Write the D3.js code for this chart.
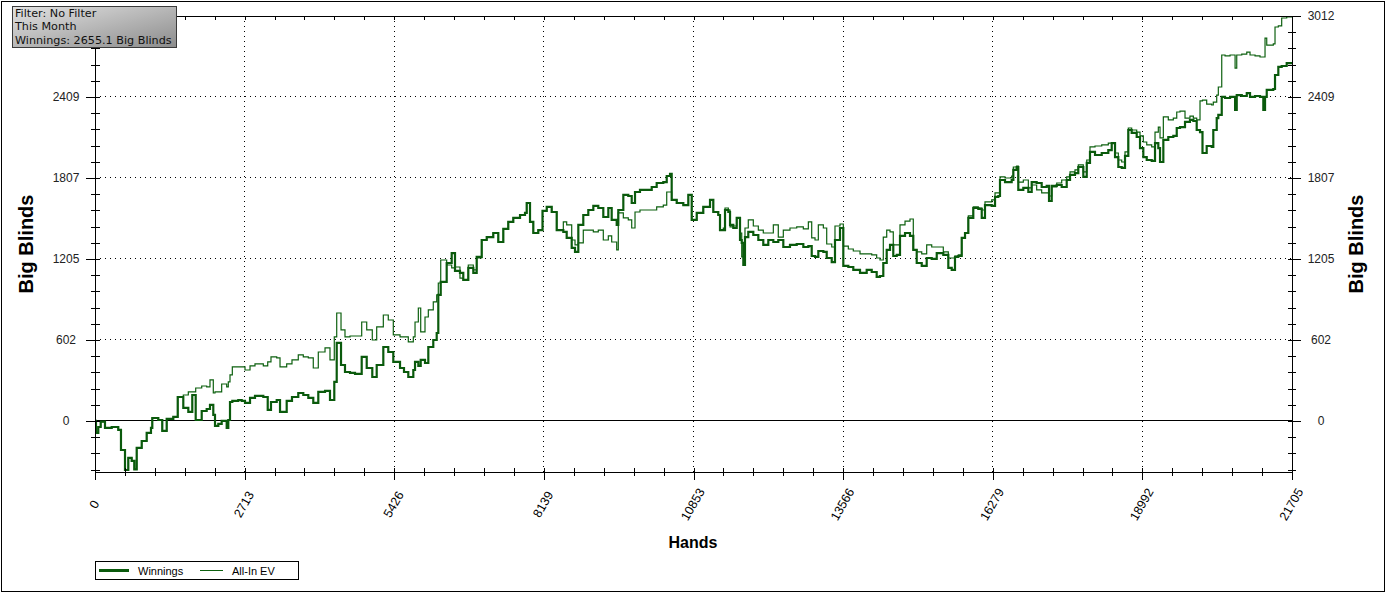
<!DOCTYPE html>
<html><head><meta charset="utf-8">
<script src="https://cdn.jsdelivr.net/npm/d3@7"></script>
<style>body{margin:0;background:#fff}svg{display:block}</style>
</head><body><svg id="c" width="1387" height="595"></svg>
<script>
const hands=[0,18,60,103,181,303,422,471,544,604,665,713,756,847,937,1015,1039,1148,1220,1300,1420,1500,1601,1692,1764,1826,1935,2025,2085,2145,2176,2236,2297,2388,2417,2448,2490,2598,2660,2720,2811,2901,3052,3132,3191,3295,3355,3476,3572,3686,3777,3868,3958,4049,4171,4261,4339,4383,4461,4533,4624,4715,4836,4927,5028,5108,5228,5318,5409,5531,5603,5681,5772,5803,5863,5906,5984,6044,6134,6196,6225,6269,6377,6468,6528,6618,6678,6769,6860,6921,7012,7103,7222,7313,7404,7494,7585,7707,7797,7828,7888,7948,8038,8115,8191,8281,8372,8492,8553,8644,8704,8764,8854,8945,9036,9126,9217,9308,9369,9460,9489,9580,9670,9732,9792,9882,10095,10185,10305,10367,10427,10457,10548,10668,10759,10820,10911,11030,11152,11212,11302,11333,11393,11424,11484,11515,11574,11636,11696,11727,11756,11786,11846,11937,12028,12118,12209,12300,12390,12481,12602,12724,12844,12935,12996,13056,13116,13207,13268,13359,13418,13509,13569,13660,13750,13872,13993,14084,14174,14234,14294,14356,14416,14475,14537,14597,14688,14778,14838,14900,14991,15081,15172,15263,15382,15473,15535,15594,15654,15716,15776,15836,15926,16017,16079,16138,16260,16320,16380,16410,16501,16622,16652,16713,16742,16833,16924,16985,17075,17166,17257,17299,17348,17439,17529,17620,17680,17770,17830,17921,17983,18042,18133,18255,18374,18436,18496,18556,18617,18677,18737,18798,18889,18949,19009,19071,19161,19221,19281,19312,19372,19462,19553,19615,19674,19765,19855,19916,19977,20037,20082,20158,20249,20278,20340,20369,20431,20491,20582,20673,20703,20794,20885,20944,21035,21125,21185,21216,21247,21366,21397,21457,21518,21609,21705];
const winnings=[0,-89,-45,-5,-52,-45,-67,-216,-365,-275,-297,-360,-201,-149,-89,-52,22,7,-74,15,30,178,97,67,193,7,74,89,119,45,-37,-22,0,-52,7,141,149,156,149,134,171,186,178,82,141,156,67,149,178,208,193,171,134,216,223,156,290,580,416,364,357,350,476,394,327,416,550,513,439,394,364,327,379,439,409,454,431,550,602,654,937,1034,1175,1249,1116,1101,1049,1138,1101,1220,1346,1368,1398,1331,1428,1480,1510,1532,1547,1621,1480,1398,1420,1562,1592,1554,1420,1406,1361,1287,1257,1458,1532,1569,1599,1584,1517,1584,1495,1458,1569,1681,1673,1621,1703,1718,1740,1770,1777,1822,1837,1644,1621,1606,1681,1495,1547,1592,1644,1554,1532,1420,1420,1569,1554,1458,1435,1510,1346,1324,1160,1368,1406,1383,1346,1309,1346,1331,1346,1294,1309,1316,1294,1301,1227,1220,1264,1257,1212,1182,1346,1435,1153,1145,1123,1101,1123,1108,1071,1078,1175,1272,1309,1227,1235,1376,1398,1376,1272,1175,1153,1212,1205,1249,1235,1138,1123,1220,1227,1361,1398,1510,1584,1577,1510,1606,1599,1666,1673,1792,1777,1792,1867,1889,1718,1733,1703,1777,1770,1740,1748,1636,1748,1755,1740,1792,1830,1844,1889,1815,1919,2001,1978,1993,2015,2067,1963,1889,1882,1971,2164,2142,2112,2030,1963,1941,1934,2067,2030,1926,2090,2112,2120,2179,2186,2224,2239,2231,2164,2149,1993,2045,2038,2164,2253,2276,2410,2402,2410,2313,2424,2417,2439,2410,2417,2410,2313,2410,2462,2469,2573,2633,2640,2662,2655.1];
const allInEV=[0,-89,-45,-5,-52,-45,-67,-216,-365,-275,-297,-360,-201,-149,-89,-52,22,7,-74,15,30,178,193,216,216,245,260,253,305,208,216,216,275,253,290,342,402,402,402,379,409,424,409,439,476,469,402,424,454,491,476,469,394,513,543,454,625,803,677,625,632,632,736,677,602,699,788,751,640,625,625,588,625,736,840,662,773,826,885,937,1026,1197,1160,1138,1145,1063,1049,1160,1123,1212,1346,1368,1398,1331,1428,1480,1510,1532,1547,1621,1480,1398,1420,1562,1592,1554,1420,1480,1458,1346,1309,1324,1420,1420,1406,1420,1346,1376,1331,1272,1547,1510,1495,1435,1554,1569,1569,1592,1606,1703,1703,1644,1621,1606,1681,1495,1547,1592,1644,1554,1532,1420,1435,1584,1569,1443,1450,1510,1398,1220,1309,1435,1495,1450,1420,1398,1398,1458,1368,1420,1435,1443,1428,1480,1361,1346,1458,1435,1316,1294,1450,1465,1301,1279,1264,1242,1242,1235,1212,1197,1368,1420,1406,1309,1309,1458,1487,1502,1272,1257,1242,1309,1294,1294,1257,1212,1212,1227,1235,1361,1398,1525,1592,1584,1569,1629,1644,1696,1696,1815,1807,1822,1889,1896,1777,1792,1733,1755,1718,1696,1696,1673,1740,1770,1792,1815,1852,1867,1904,1852,1941,2038,2045,2053,2067,2067,1993,1941,1926,2001,2179,2164,2149,2120,2075,2053,2038,2149,2186,2105,2261,2239,2253,2298,2305,2253,2268,2253,2239,2380,2387,2357,2350,2372,2424,2484,2722,2715,2722,2625,2722,2729,2744,2722,2715,2707,2707,2848,2796,2804,2930,2938,2997,3005,3012];
const xTickValues=[0,2713,5426,8139,10853,13566,16279,18992,21705];
const xTickLabels=["0","2713","5426","8139","10853","13566","16279","18992","21705"];
const yTickValues=[0,602.4,1204.8,1807.2,2409.6,3012];
const yTickLabels=["0","602","1205","1807","2409","3012"];
const infoLines=["Filter: No Filter","This Month","Winnings: 2655.1 Big Blinds"];
const seriesNames=["Winnings","All-In EV"];
const xTitle="Hands", yTitle="Big Blinds";

const svg=d3.select("#c");
const L=95,R=1292,T=16,B=471.5;
const x=d3.scaleLinear().domain([0,21705]).range([L,R]);
const y=d3.scaleLinear().domain([-376,3012]).range([B,T]);
const FONT="'Liberation Sans', Arial, sans-serif";
const colW="#0a5a0c", colE="#0d600f";

svg.append("rect").attr("width",1387).attr("height",595).attr("fill","#fff");
svg.append("rect").attr("x",1.5).attr("y",1.5).attr("width",1383).attr("height",590).attr("fill","none").attr("stroke","#000");

// grid
const grid=svg.append("g").attr("stroke","#000").attr("stroke-dasharray","1,4").attr("shape-rendering","crispEdges");
xTickValues.slice(1,-1).forEach(v=>grid.append("line").attr("x1",x(v)).attr("x2",x(v)).attr("y1",T).attr("y2",B));
yTickValues.slice(1,-1).forEach(v=>grid.append("line").attr("x1",L).attr("x2",R).attr("y1",y(v)).attr("y2",y(v)));
svg.append("line").attr("x1",L).attr("x2",R).attr("y1",y(0)).attr("y2",y(0)).attr("stroke","#000").attr("shape-rendering","crispEdges");

// series
svg.append("defs").append("clipPath").attr("id","clip").append("rect").attr("x",L).attr("y",T-1).attr("width",R-L+1).attr("height",B-T+2);
const idx=d3.range(Math.min(hands.length,winnings.length,allInEV.length));
const lineW=d3.line().curve(d3.curveStepAfter).x(i=>x(hands[i])).y(i=>y(winnings[i]));
const lineE=d3.line().curve(d3.curveStepAfter).x(i=>x(hands[i])).y(i=>y(allInEV[i]));
const gl=svg.append("g").attr("clip-path","url(#clip)");
gl.append("path").attr("d",lineE(idx)).attr("fill","none").attr("stroke",colE).attr("stroke-width",1.2);
gl.append("path").attr("d",lineW(idx)).attr("fill","none").attr("stroke",colW).attr("stroke-width",2.2);

// axes
const xMinor=d3.range(0,41).map(i=>i*21705/40);
const yMinor=d3.range(-3,26).map(i=>i*602.4/5).filter(v=>v>=-376);
function styleAxis(g){g.select(".domain").attr("stroke","#000");g.selectAll("line").attr("stroke","#000");g.attr("shape-rendering","crispEdges");}

const gb=svg.append("g").attr("transform",`translate(0,${B})`).call(d3.axisBottom(x).tickValues(xTickValues).tickFormat((d,i)=>xTickLabels[i]).tickSize(8).tickSizeOuter(0));
gb.call(styleAxis);
gb.selectAll(".tick line").attr("y1",-4);
gb.selectAll(".tick text").attr("font-family",FONT).attr("font-size",12.5).attr("fill","#000").attr("text-anchor","middle").attr("dy",null).attr("y",null)
  .attr("transform","translate(-1,33) rotate(-60)").attr("dominant-baseline","central");
svg.append("g").attr("transform",`translate(0,${B})`).call(d3.axisBottom(x).tickValues(xMinor).tickFormat("").tickSize(4).tickSizeOuter(0)).call(styleAxis).selectAll(".tick line").attr("y1",-4);

const gt=svg.append("g").attr("transform",`translate(0,${T})`).call(d3.axisTop(x).tickValues(xMinor).tickFormat("").tickSize(0).tickSizeOuter(0));
gt.call(styleAxis); gt.selectAll(".tick line").attr("y2",4);

// left axis: the top label is covered by the info box in the reference, so it is not drawn
const gL=svg.append("g").attr("transform",`translate(${L},0)`).call(d3.axisLeft(y).tickValues(yTickValues).tickFormat((d,i)=>i===yTickLabels.length-1?"":yTickLabels[i]).tickSize(9).tickSizeOuter(0));
gL.call(styleAxis); gL.selectAll(".tick line").attr("x1",5);
gL.selectAll(".tick text").attr("font-family",FONT).attr("font-size",12).attr("fill","#222").attr("text-anchor","middle").attr("x",-29);
svg.append("g").attr("transform",`translate(${L},0)`).call(d3.axisLeft(y).tickValues(yMinor).tickFormat("").tickSize(4).tickSizeOuter(0)).call(styleAxis).selectAll(".tick line").attr("x1",5);

const gR=svg.append("g").attr("transform",`translate(${R},0)`).call(d3.axisRight(y).tickValues(yTickValues).tickFormat((d,i)=>yTickLabels[i]).tickSize(9).tickSizeOuter(0));
gR.call(styleAxis); gR.selectAll(".tick line").attr("x1",-4);
gR.selectAll(".tick text").attr("font-family",FONT).attr("font-size",12).attr("fill","#222").attr("text-anchor","middle").attr("x",29);
svg.append("g").attr("transform",`translate(${R},0)`).call(d3.axisRight(y).tickValues(yMinor).tickFormat("").tickSize(4).tickSizeOuter(0)).call(styleAxis).selectAll(".tick line").attr("x1",-4);

// titles
svg.append("text").attr("x",693).attr("y",548).attr("text-anchor","middle").attr("font-family",FONT).attr("font-weight","bold").attr("font-size",16).text(xTitle);
svg.append("text").attr("transform","translate(33,244) rotate(-90)").attr("text-anchor","middle").attr("font-family",FONT).attr("font-weight","bold").attr("font-size",20).text(yTitle);
svg.append("text").attr("transform","translate(1363,244) rotate(-90)").attr("text-anchor","middle").attr("font-family",FONT).attr("font-weight","bold").attr("font-size",20).text(yTitle);

// info box
const gr=svg.select("defs").append("linearGradient").attr("id","gbox").attr("x1","0").attr("y1","0").attr("x2","1").attr("y2","1");
gr.append("stop").attr("offset","0").attr("stop-color","#e2e2e2");
gr.append("stop").attr("offset","1").attr("stop-color","#8c8c8c");
svg.append("rect").attr("x",12.5).attr("y",6.5).attr("width",164).attr("height",41).attr("fill","url(#gbox)").attr("stroke","#3a3a3a");
infoLines.forEach((t,i)=>svg.append("text").attr("x",15).attr("y",17+i*13.3).attr("font-family","'DejaVu Sans', Verdana, sans-serif").attr("font-size",11.2).attr("fill","#111").text(t));

// legend
svg.append("rect").attr("x",95.5).attr("y",561.5).attr("width",203).attr("height",18).attr("fill","#fff").attr("stroke","#000");
svg.append("line").attr("x1",99).attr("x2",129).attr("y1",570.5).attr("y2",570.5).attr("stroke",colW).attr("stroke-width",3);
svg.append("text").attr("x",138).attr("y",574.5).attr("font-family",FONT).attr("font-size",11).text(seriesNames[0]);
svg.append("line").attr("x1",200).attr("x2",223).attr("y1",570.5).attr("y2",570.5).attr("stroke",colE).attr("stroke-width",1);
svg.append("text").attr("x",232).attr("y",574.5).attr("font-family",FONT).attr("font-size",11).text(seriesNames[1]);
</script></body></html>
